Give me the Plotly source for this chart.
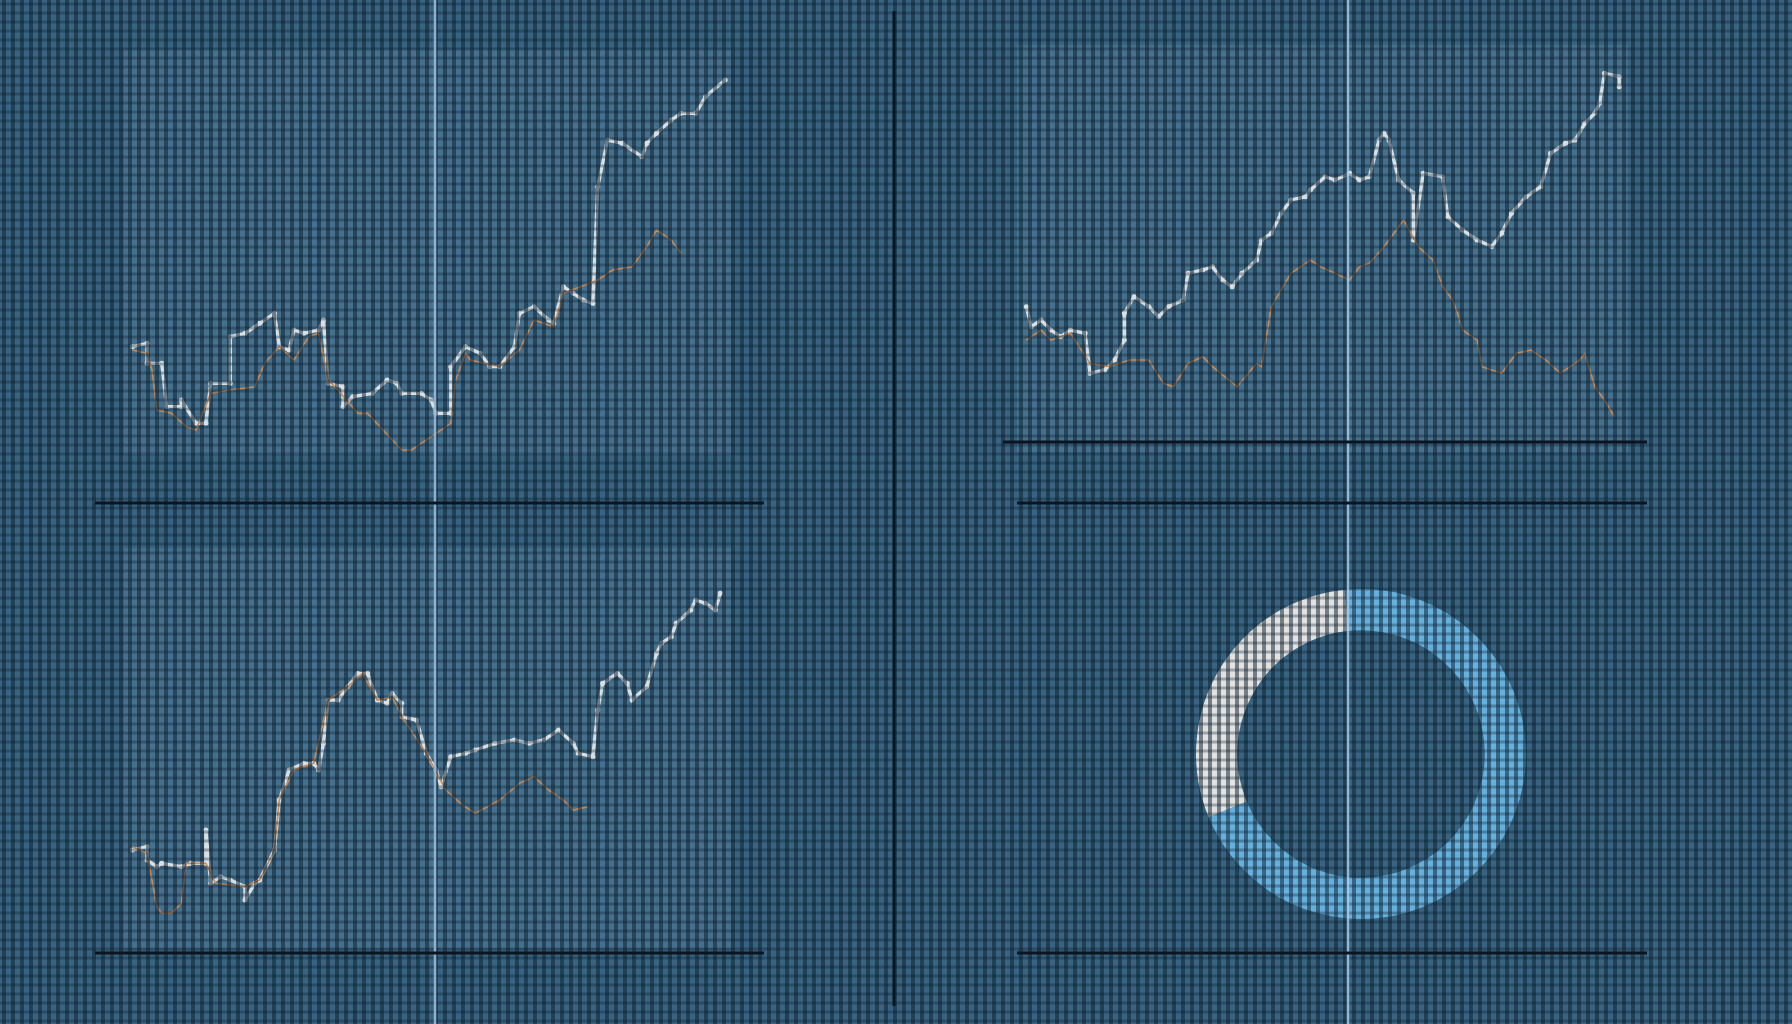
import plotly.graph_objects as go

W, H = 1792, 1024

# ---------------- data ----------------
# Top-left panel
tl_white_day = [0, 3, 3, 6, 7, 10, 10, 13, 15, 16, 20, 20, 23, 26, 29, 30, 32, 33, 35, 38, 39, 40, 43, 43, 45, 49,
                52, 54, 55, 59, 61, 62, 65, 65, 68, 71, 73, 75, 78, 79, 82, 85, 86, 88, 90, 92, 94, 95, 97, 100,
                104, 105, 107, 110, 112, 115, 117, 121]
tl_white_val = [36, 37, 31, 31, 18, 18, 20, 13, 13, 25, 25, 39, 40, 43, 46, 36, 35, 41, 40, 41, 44, 25, 24, 18, 21, 22,
                26, 25, 22, 22, 20, 16, 16, 30, 36, 34, 30, 30, 36, 46, 48, 44, 43, 54, 52, 50, 49, 84, 98, 97,
                93, 97, 100, 104, 106, 106, 111, 116]
tl_orange_day = [0, 3, 4, 5, 8, 11, 13, 16, 20, 25, 27, 30, 33, 36, 38, 40, 42, 46, 48, 55, 57, 61, 65, 66, 68, 69,
                 75, 79, 82, 86, 88, 95, 98, 102, 105, 107, 110, 112]
tl_orange_val = [35, 34, 29, 17, 16, 12, 11, 22, 23, 24, 31, 36, 32, 39, 40, 26, 23, 16, 16, 5, 5, 9, 13, 26, 34, 32,
                 30, 35, 44, 42, 52, 56, 59, 60, 66, 71, 68, 64]

# Top-right panel
tr_white_day = [0, 1, 3, 5, 7, 9, 12, 13, 16, 18, 20, 20, 22, 25, 27, 29, 32, 33, 36, 38, 40, 42, 44, 47, 48, 50,
                52, 54, 57, 58, 61, 63, 66, 68, 70, 72, 73, 74, 76, 79, 79, 81, 85, 86, 89, 92, 95, 97, 99, 102,
                105, 107, 110, 112, 114, 116, 117, 118, 121, 121]
tr_white_val = [40, 34, 36, 33, 31, 33, 32, 20, 21, 24, 30, 38, 43, 40, 37, 40, 42, 50, 51, 52, 48, 46, 50, 54, 60, 62,
                68, 72, 73, 75, 79, 78, 80, 78, 79, 90, 92, 90, 78, 74, 60, 80, 79, 67, 63, 60, 58, 62, 68, 73,
                76, 86, 89, 90, 95, 98, 101, 110, 109, 106]
tr_orange_day = [0, 3, 5, 9, 13, 17, 21, 25, 28, 30, 33, 36, 38, 43, 47, 48, 50, 52, 54, 58, 60, 63, 66, 68, 70, 73,
                 77, 80, 83, 85, 87, 88, 89, 92, 93, 97, 100, 103, 106, 109, 113, 114, 116, 118, 120]
tr_orange_val = [30, 33, 30, 32, 23, 22, 24, 24, 17, 16, 23, 25, 22, 16, 23, 22, 40, 45, 50, 54, 52, 50, 48, 52, 53, 58,
                 66, 58, 54, 46, 42, 38, 33, 30, 22, 20, 26, 27, 24, 20, 24, 26, 16, 12, 7]

# Bottom-left panel
bl_white_day = [0, 3, 3, 5, 6, 10, 12, 15, 15, 16, 18, 20, 23, 23, 25, 26, 29, 30, 32, 35, 37, 38, 39, 40, 42, 44,
                46, 48, 50, 52, 53, 55, 55, 58, 60, 62, 63, 65, 68, 70, 74, 78, 81, 84, 87, 90, 91, 94, 95, 96,
                99, 101, 102, 105, 107, 108, 110, 111, 114, 115, 117, 119, 120]
bl_white_val = [27, 28, 24, 22, 23, 22, 23, 23, 33, 17, 19, 18, 16, 12, 17, 18, 27, 42, 51, 53, 53, 51, 59, 72, 72, 76,
                80, 80, 72, 71, 74, 71, 67, 66, 56, 51, 46, 55, 56, 57, 59, 60, 59, 60, 63, 59, 56, 55, 69, 77,
                80, 77, 72, 76, 86, 89, 91, 95, 99, 102, 101, 99, 104]
bl_orange_day = [0, 3, 5, 6, 8, 10, 11, 15, 17, 23, 26, 29, 30, 33, 37, 40, 44, 47, 50, 53, 55, 60, 64, 67, 70, 75,
                 79, 82, 85, 88, 90, 93]
bl_orange_val = [28, 26, 10, 8, 8, 11, 23, 23, 17, 16, 18, 27, 42, 51, 53, 72, 76, 80, 72, 73, 67, 56, 45, 41, 38, 42,
                 47, 49, 45, 42, 39, 40]

# Bottom-right donut
donut_labels = ["Part B", "Part A"]
donut_values = [70.3, 29.7]

# ---------------- styling ----------------
BG = "#386381"
WHITE = "#d9e0e4"
ORANGE = "#c98a55"
PLOT_BG = "rgba(165,205,230,0.13)"


def px(x):
    return x / W


def py(y):
    return 1 - y / H


fig = go.Figure()


def add_panel(idx, wd, wv, od, ov):
    xa = "x" if idx == 1 else f"x{idx}"
    ya = "y" if idx == 1 else f"y{idx}"
    fig.add_trace(go.Scatter(x=wd, y=wv, xaxis=xa, yaxis=ya, mode="lines+markers",
                             line=dict(color=WHITE, width=3.4), marker=dict(size=5, color=WHITE),
                             hoverinfo="skip", showlegend=False))
    fig.add_trace(go.Scatter(x=od, y=ov, xaxis=xa, yaxis=ya, mode="lines",
                             line=dict(color=ORANGE, width=1.6),
                             hoverinfo="skip", showlegend=False))


add_panel(1, tl_white_day, tl_white_val, tl_orange_day, tl_orange_val)
add_panel(2, tr_white_day, tr_white_val, tr_orange_day, tr_orange_val)
add_panel(3, bl_white_day, bl_white_val, bl_orange_day, bl_orange_val)

fig.add_trace(go.Pie(labels=donut_labels, values=donut_values, hole=0.75, sort=False,
                     direction="clockwise", rotation=-5.6,
                     marker=dict(colors=["#66b0de", "#e2e2e2"], line=dict(width=0)),
                     textinfo="none", hoverinfo="skip", showlegend=False,
                     domain=dict(x=[px(1196), px(1526)], y=[py(919), py(589)])))

hidden = dict(visible=False, fixedrange=True)
fig.update_layout(
    width=W, height=H, margin=dict(l=0, r=0, t=0, b=0),
    paper_bgcolor=BG, plot_bgcolor=PLOT_BG, showlegend=False,
    xaxis=dict(domain=[px(124), px(731)], range=[-1.7, 122.2], anchor="y", **hidden),
    yaxis=dict(domain=[py(455), py(50)], range=[3.5, 125], anchor="x", **hidden),
    xaxis2=dict(domain=[px(1017), px(1628)], range=[-1.9, 122.8], anchor="y2", **hidden),
    yaxis2=dict(domain=[py(452), py(45)], range=[-3.6, 118.5], anchor="x2", **hidden),
    xaxis3=dict(domain=[px(124), px(731)], range=[-1.7, 122.2], anchor="y3", **hidden),
    yaxis3=dict(domain=[py(948), py(548)], range=[-2.4, 117.6], anchor="x3", **hidden),
)

shapes = []
# mesh texture over everything
period = 9
vpath = " ".join(f"M{px(i * period + 4):.5f},0 L{px(i * period + 4):.5f},1" for i in range(W // period + 1))
hpath = " ".join(f"M0,{py(j * period + 4):.5f} L1,{py(j * period + 4):.5f}" for j in range(H // period + 1))
shapes.append(dict(type="path", path=vpath, xref="paper", yref="paper", layer="above",
                   line=dict(color="#0b1d2b", width=4), opacity=0.5))
shapes.append(dict(type="path", path=hpath, xref="paper", yref="paper", layer="above",
                   line=dict(color="#0b1d2b", width=3), opacity=0.32))

# light blue vertical guides
for gx in (435, 1348):
    shapes.append(dict(type="line", xref="paper", yref="paper", x0=px(gx), x1=px(gx), y0=0, y1=1,
                       layer="above", line=dict(color="rgba(170,205,236,0.8)", width=2.5)))

# black divider and baselines
DARK = "#0a1520"
shapes.append(dict(type="line", xref="paper", yref="paper", x0=px(894), x1=px(894), y0=py(1006), y1=py(11),
                   layer="above", line=dict(color=DARK, width=3)))
for (x0, x1, y) in [(95, 764, 503), (95, 764, 953), (1003, 1647, 442), (1017, 1647, 503), (1017, 1647, 953)]:
    shapes.append(dict(type="line", xref="paper", yref="paper", x0=px(x0), x1=px(x1), y0=py(y), y1=py(y),
                       layer="above", line=dict(color=DARK, width=3)))

fig.update_layout(shapes=shapes)
fig.write_html("out.html", config={"displayModeBar": False},
               post_script="document.body.style.margin='0';document.body.style.overflow='hidden';")
